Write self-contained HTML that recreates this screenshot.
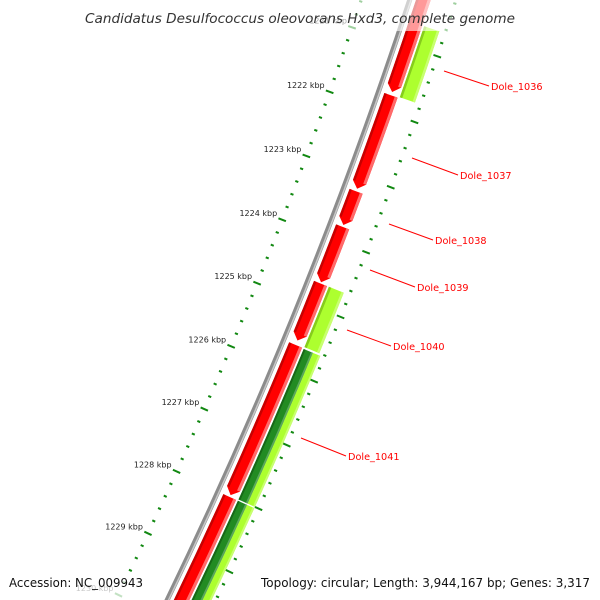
<!DOCTYPE html>
<html><head><meta charset="utf-8"><style>
html,body{margin:0;padding:0;background:#fff;width:600px;height:600px;overflow:hidden;}
svg{display:block;overflow:hidden;}
text{font-family:"DejaVu Sans","Liberation Sans",sans-serif;}
</style></head><body>
<svg id="map" width="600" height="600" viewBox="0 0 600 600" xmlns="http://www.w3.org/2000/svg">
<g id="ticks"></g>
<g id="backbone"></g>
<g id="features"></g>
<g id="labels">
<line x1="444" y1="71" x2="489" y2="86" stroke="#f00" stroke-width="1"/>
<text x="491" y="90" font-size="9.7" fill="#f00">Dole_1036</text>
<line x1="412" y1="158" x2="458" y2="175" stroke="#f00" stroke-width="1"/>
<text x="460" y="179" font-size="9.7" fill="#f00">Dole_1037</text>
<line x1="389" y1="224" x2="433" y2="240" stroke="#f00" stroke-width="1"/>
<text x="435" y="244" font-size="9.7" fill="#f00">Dole_1038</text>
<line x1="370" y1="270" x2="415" y2="287" stroke="#f00" stroke-width="1"/>
<text x="417" y="291" font-size="9.7" fill="#f00">Dole_1039</text>
<line x1="347" y1="330" x2="391" y2="346" stroke="#f00" stroke-width="1"/>
<text x="393" y="350" font-size="9.7" fill="#f00">Dole_1040</text>
<line x1="301" y1="438" x2="346" y2="456" stroke="#f00" stroke-width="1"/>
<text x="348" y="460" font-size="9.7" fill="#f00">Dole_1041</text>
</g>
<rect x="0" y="0" width="600" height="31" fill="#fff" fill-opacity="0.6"/>
<text x="300" y="23" text-anchor="middle" font-size="13" font-style="italic" fill="#333" textLength="430" lengthAdjust="spacingAndGlyphs">Candidatus Desulfococcus oleovorans Hxd3, complete genome</text>
<rect x="5" y="572" width="143" height="26" fill="#fff" fill-opacity="0.75"/>
<text x="9" y="587" font-size="12.5" fill="#111" textLength="134" lengthAdjust="spacingAndGlyphs">Accession: NC_009943</text>
<rect x="257" y="572" width="338" height="26" fill="#fff" fill-opacity="0.75"/>
<text x="261" y="587" font-size="12.5" fill="#111" textLength="329" lengthAdjust="spacingAndGlyphs">Topology: circular; Length: 3,944,167 bp; Genes: 3,317</text>
</svg>
<script>
// feature data (kbp)
const fwdNames = ['Dole_1035','Dole_1037','Dole_1038','Dole_1039','Dole_1040r','Dole_1041r','Dole_1042'];
const fwdStart = [1219.5, 1221.75, 1223.23, 1223.78, 1224.66, 1225.62, 1228.02];
const fwdEnd   = [1221.70, 1223.19, 1223.75, 1224.64, 1225.55, 1227.99, 1231.0];
const revNames = ['Dole_1036','Dole_1040'];
const revStart = [1220.65, 1224.66];
const revEnd   = [1221.735, 1225.60];
const dualNames = ['Dole_1041','Dole_1043'];
const dualStart = [1225.63, 1228.02];
const dualEnd   = [1228.0, 1231.0];
const tickMajor = [1220,1221,1222,1223,1224,1225,1226,1227,1228,1229,1230];
const tickLabels = ['1220 kbp','1221 kbp','1222 kbp','1223 kbp','1224 kbp','1225 kbp','1226 kbp','1227 kbp','1228 kbp','1229 kbp','1230 kbp'];

const NS='http://www.w3.org/2000/svg';
const CX=-4253, CY=-1535.5, R=4909;
const DEG0=19.55, DPK=0.804, REF=1222;
function ang(k){return (DEG0+(k-REF)*DPK)*Math.PI/180;}
function pt(r,k){const a=ang(k);return [CX+r*Math.cos(a), CY+r*Math.sin(a)];}
function f(p){return p[0].toFixed(2)+' '+p[1].toFixed(2);}
function mk(tag,attrs,parent){const e=document.createElementNS(NS,tag);for(const k in attrs)e.setAttribute(k,attrs[k]);parent.appendChild(e);return e;}
function band(r1,r2,k1,k2){
  return 'M'+f(pt(r1,k1))+' A'+r1+' '+r1+' 0 0 1 '+f(pt(r1,k2))+' L'+f(pt(r2,k2))+' A'+r2+' '+r2+' 0 0 0 '+f(pt(r2,k1))+' Z';
}
function arrow(r1,r2,k1,k2){
  const sh=Math.max(k1,k2-0.1), rm=(r1+r2)/2;
  return 'M'+f(pt(r1,k1))+' A'+r1+' '+r1+' 0 0 1 '+f(pt(r1,sh))+' L'+f(pt(rm,k2))+' L'+f(pt(r2,sh))+' A'+r2+' '+r2+' 0 0 0 '+f(pt(r2,k1))+' Z';
}

// ticks
const tg=document.getElementById('ticks');
const rIn=R-46, rOut=R+44;
for(let i=Math.round(tickMajor[0]*5)-3;i<=Math.round(tickMajor[tickMajor.length-1]*5)+5;i++){
  const k=i/5, major=(i%5===0);
  const len=major?4:1.6;
  [rIn,rOut].forEach((rr,j)=>{
    const p1=pt(rr-len,k), p2=pt(rr+len,k);
    const l=mk('line',{x1:p1[0],y1:p1[1],x2:p2[0],y2:p2[1],stroke:'#118811','stroke-width':2},tg);
    
    
  });
}
tickMajor.forEach((k,i)=>{
  const p=pt(rIn,k);
  const t=mk('text',{x:p[0]-5,y:p[1]-4,'text-anchor':'end','font-size':8,fill:'#222'},tg);
  
  
  t.textContent=tickLabels[i];
});

// backbone
const bg=document.getElementById('backbone');
const b1=mk('path',{d:band(R-2.5,R+2.5,1219,1232),fill:'#8c8c8c'},bg);


const b2=mk('path',{d:band(R+0.5,R+2,1219,1232),fill:'#c8c8c8'},bg);



// features
const fg=document.getElementById('features');
const r1=R+6, r2=R+20;
fwdStart.forEach((s,i)=>{
  const e=fwdEnd[i];
  const g=mk('g',{},fg);
  
  
  mk('path',{d:arrow(r1,r2,s,e),fill:'#ff0000'},g);
  const sh=e-0.1;
  mk('path',{d:band(r1,r1+2.5,s,sh),fill:'#c80000'},g);
  mk('path',{d:band(r2-3,r2,s,sh),fill:'#ff6a6a'},g);
});
const q1=R+22, q2=R+38;
revStart.forEach((s,i)=>{
  const e=revEnd[i];
  const g=mk('g',{},fg);
  
  
  mk('path',{d:band(q1,q2,s,e),fill:'#adff2f'},g);
  mk('path',{d:band(q1,q1+2.5,s,e),fill:'#86cc1c'},g);
  mk('path',{d:band(q2-2.5,q2,s,e),fill:'#c8ff70'},g);
});
dualStart.forEach((s,i)=>{
  const e=dualEnd[i];
  const g=mk('g',{},fg);
  
  
  mk('path',{d:band(R+22,R+32,s,e),fill:'#228b22'},g);
  mk('path',{d:band(R+22,R+24,s,e),fill:'#176917'},g);
  mk('path',{d:band(R+30,R+32,s,e),fill:'#5aa85a'},g);
  mk('path',{d:band(R+32,R+40,s,e),fill:'#adff2f'},g);
  mk('path',{d:band(R+38,R+40,s,e),fill:'#c8ff70'},g);
});
</script>
</body></html>
